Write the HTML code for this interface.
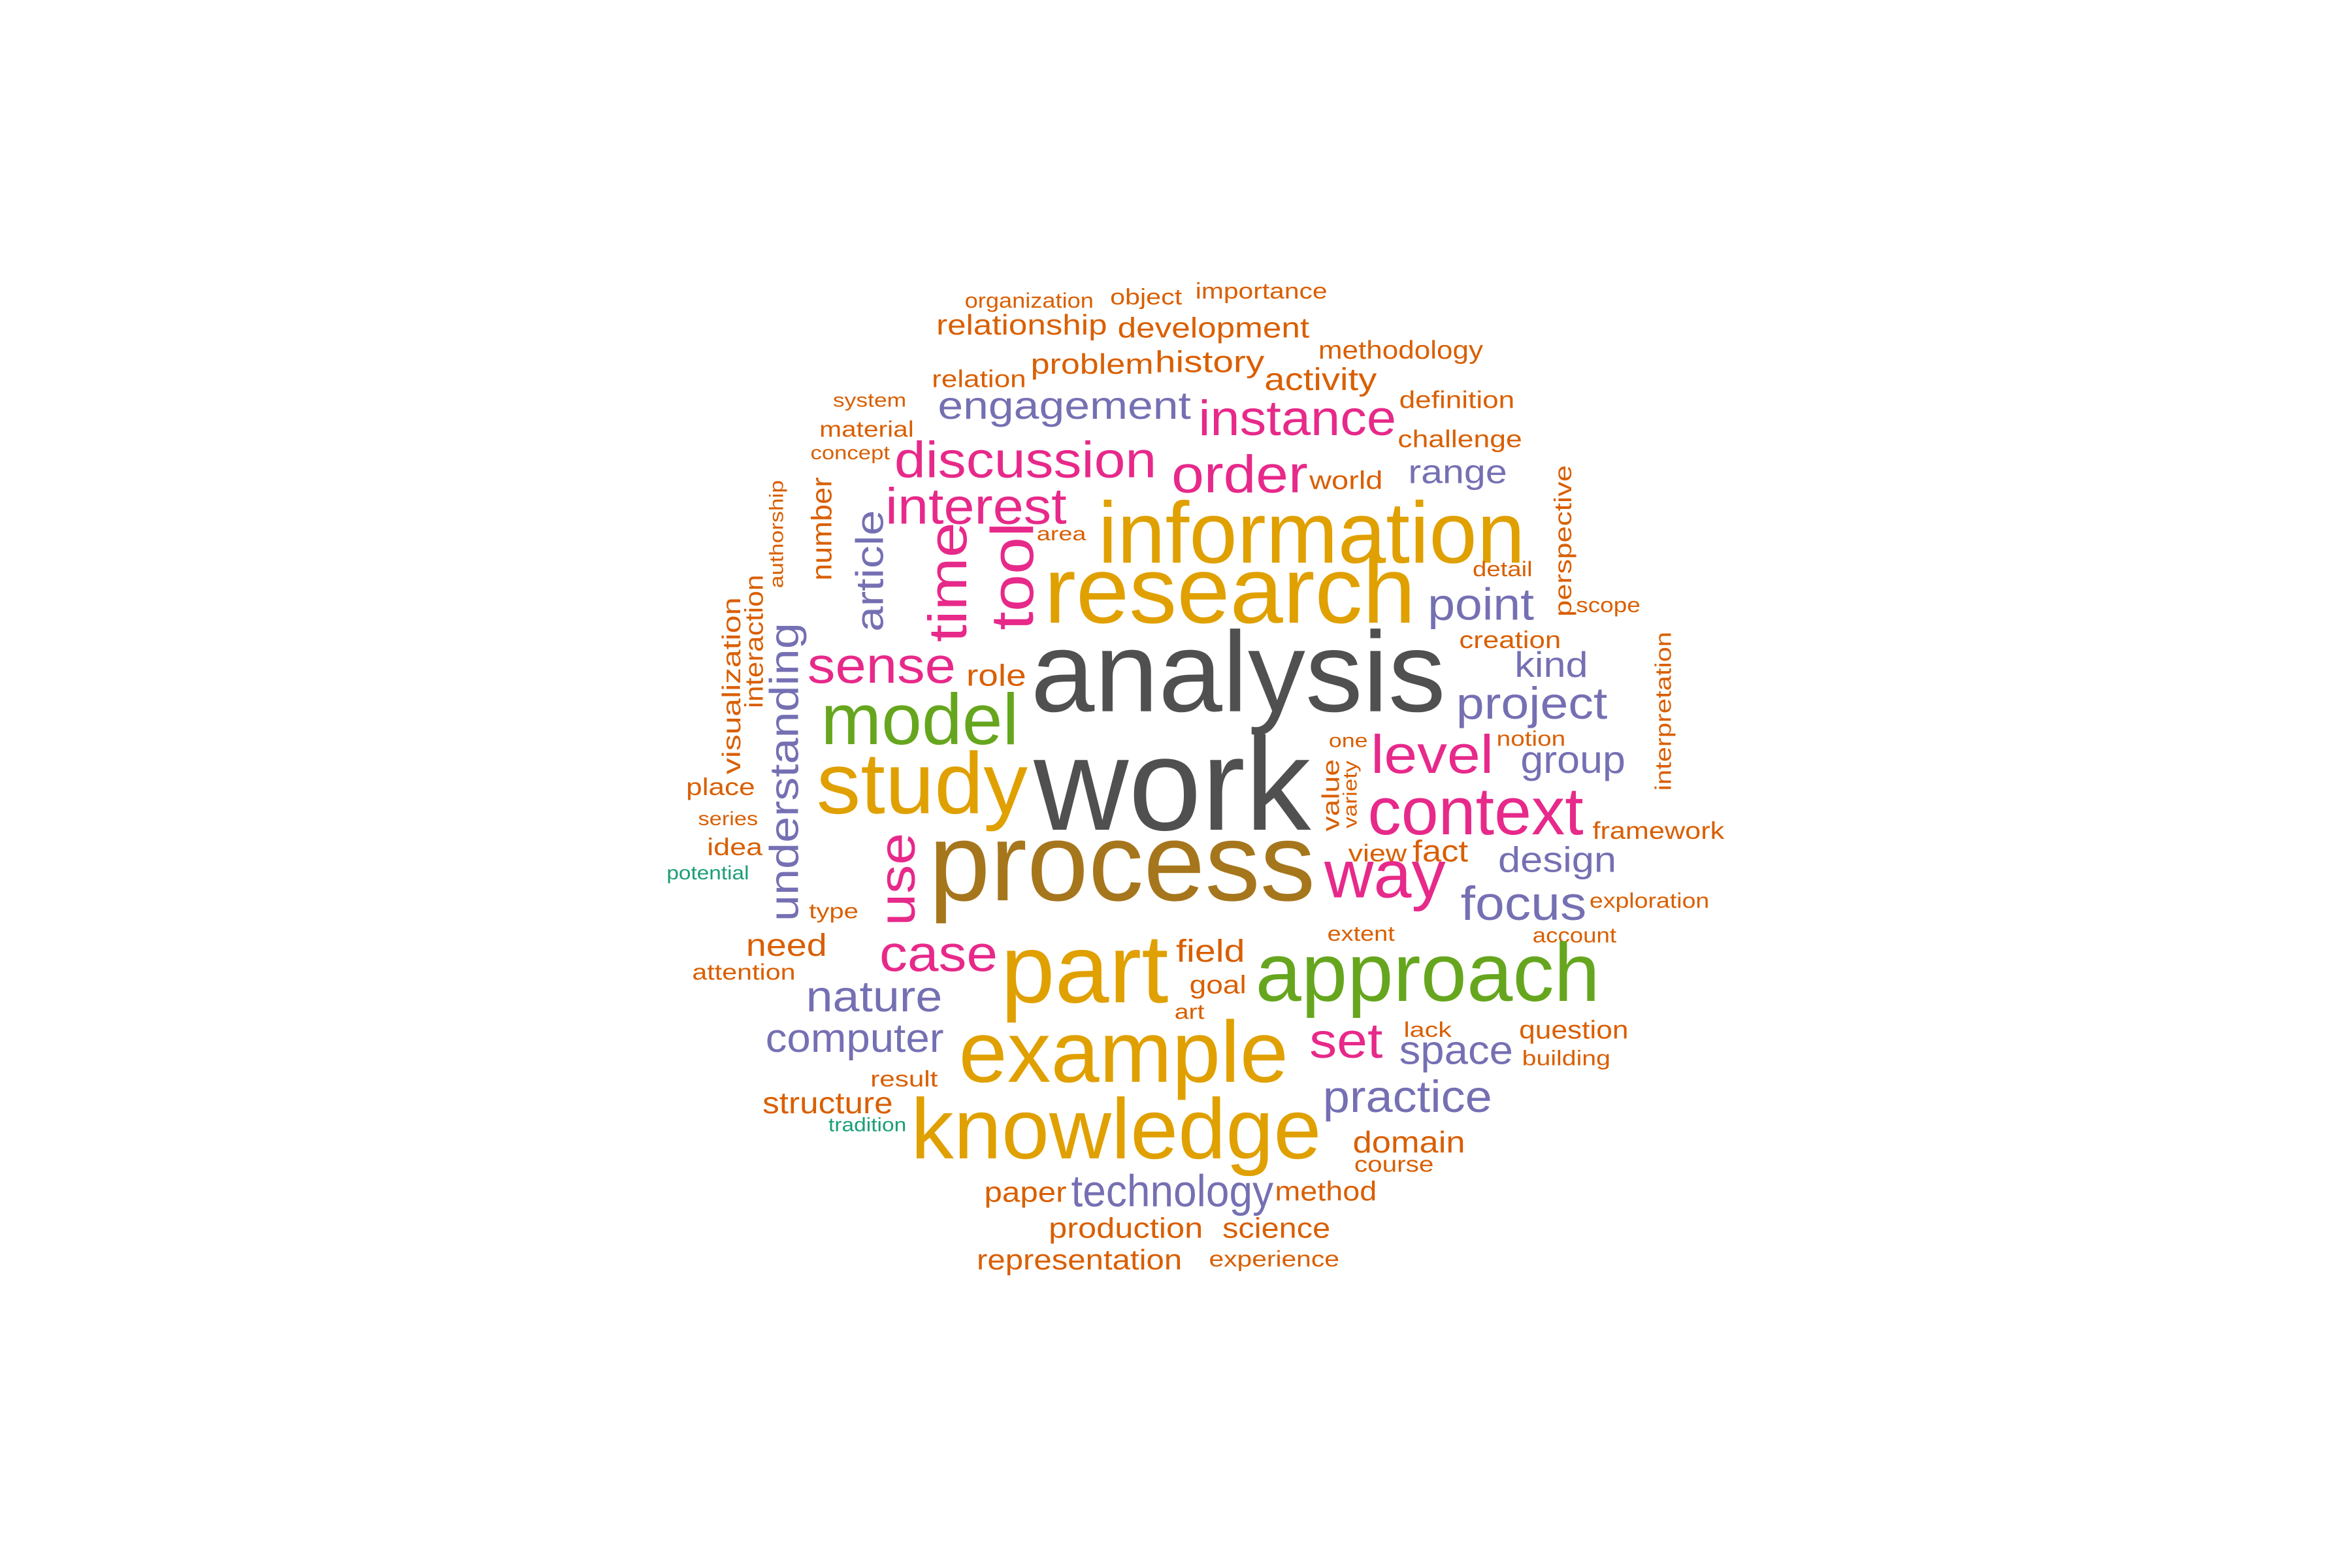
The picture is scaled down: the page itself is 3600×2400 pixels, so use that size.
<!DOCTYPE html>
<html><head><meta charset="utf-8"><style>
html,body{margin:0;padding:0;background:#fff;}
svg{display:block;}
text{font-family:"Liberation Sans",Arial,sans-serif;}
</style></head>
<body>
<svg id="cloud" width="3600" height="2400" viewBox="0 0 1570 1045" preserveAspectRatio="none" xmlns="http://www.w3.org/2000/svg">
<rect width="1570" height="1045" fill="#fff"/>
</svg>
<script>
const palette = {o:"#D95F02",p:"#7570B3",k:"#E7298A",y:"#E0A000",g:"#66A61E",b:"#A6761D",r:"#505050",t:"#1B9E77"};
// horizontal words: [word, left, baseline, width, size, color]
const horizWords = [
["organization",644,205,86,14,"o"],["object",741,203,48,15,"o"],["importance",798,199,88,15,"o"],
["relationship",625,223,114,19,"o"],["development",746,225,128,19,"o"],["methodology",880,239,110,17,"o"],
["relation",622,258,63,16,"o"],["problem",688,249,82,19,"o"],["history",771,248,73,20,"o"],
["activity",844,260,75,21,"o"],["engagement",626,279,169,26,"p"],["instance",800,290,132,33,"k"],
["definition",934,272,77,16,"o"],["system",556,271,49,13,"o"],["material",547,291,63,15,"o"],
["challenge",933,298,83,16,"o"],["concept",541,306,53,13,"o"],["discussion",597,318,175,34,"k"],
["order",782,328,91,35,"k"],["world",874,326,49,17,"o"],["range",940,322,66,22,"p"],
["interest",591,349,121,34,"k"],["information",733,375,285,58,"y"],["area",692,360,33,13,"o"],
["detail",983,384,40,14,"o"],["research",697,415,248,63,"y"],["point",953,413,71,30,"p"],
["scope",1052,408,43,14,"o"],["creation",974,432,68,16,"o"],["sense",539,455,99,34,"k"],
["role",645,457,40,20,"o"],["analysis",688,474,277,76,"r"],["kind",1011,451,49,24,"p"],
["project",972,479,101,30,"p"],["model",548,496,132,48,"g"],["notion",999,497,46,14,"o"],
["one",887,498,26,13,"o"],["level",915,515,82,36,"k"],["group",1015,515,70,26,"p"],
["study",545,542,141,58,"y"],["work",690,553,185,88,"r"],["place",458,530,46,16,"o"],
["context",913,556,144,45,"k"],["framework",1063,559,88,16,"o"],["series",466,550,40,13,"o"],
["idea",472,570,37,16,"o"],["view",900,574,39,16,"o"],["fact",943,574,37,20,"o"],
["design",1000,581,79,24,"p"],["potential",445,586,55,13,"t"],["process",620,600,258,74,"b"],
["way",884,598,81,45,"k"],["focus",975,613,84,32,"p"],["exploration",1061,605,80,14,"o"],
["type",540,612,33,14,"o"],["extent",886,627,45,14,"o"],["account",1023,628,56,14,"o"],
["need",498,637,54,21,"o"],["case",587,647,79,34,"k"],["field",785,641,46,21,"o"],
["part",668,668,112,65,"y"],["approach",838,667,230,55,"g"],["attention",462,653,69,15,"o"],
["goal",794,662,38,17,"o"],["nature",538,674,91,29,"p"],["art",784,679,20,14,"o"],
["lack",937,691,32,14,"o"],["question",1014,692,73,17,"o"],["set",874,705,49,33,"k"],
["space",934,709,76,27,"p"],["computer",511,701,119,27,"p"],["building",1016,710,59,14,"o"],
["example",640,721,220,58,"y"],["result",581,724,45,15,"o"],["structure",509,742,87,20,"o"],
["practice",883,741,113,30,"p"],["tradition",553,754,52,13,"t"],["knowledge",608,772,274,57,"y"],
["domain",903,768,75,20,"o"],["course",904,781,53,15,"o"],["paper",657,801,55,19,"o"],
["technology",715,804,135,30,"p"],["method",851,800,68,18,"o"],["production",700,825,103,19,"o"],
["science",816,825,72,19,"o"],["representation",652,846,137,19,"o"],["experience",807,844,87,15,"o"]
];
// vertical words: [word, centerX, top, bottom, size, color]
const vertWords = [
["authorship",518,320,392,13,"o"],["number",548,318,387,19,"o"],["article",580,340,421,26,"p"],
["time",632,348,428,36,"k"],["tool",675,348,420,40,"k"],["visualization",488,398,516,17,"o"],
["interaction",503,383,472,17,"o"],["understanding",523,415,614,27,"p"],["use",598,555,617,34,"k"],
["value",888,506,554,16,"o"],["variety",901,507,552,13,"o"],["perspective",1043,310,411,16,"o"],
["interpretation",1110,421,527,15,"o"]
];
const NS="http://www.w3.org/2000/svg";
const svg=document.getElementById('cloud');
horizWords.forEach(w=>{
  const t=document.createElementNS(NS,'text');
  t.setAttribute('x',w[1]);t.setAttribute('y',w[2]);
  t.setAttribute('font-size',w[4]);t.setAttribute('fill',palette[w[5]]);
  t.setAttribute('textLength',w[3]);t.setAttribute('lengthAdjust','spacingAndGlyphs');
  t.textContent=w[0];
  
  
  svg.appendChild(t);
});
vertWords.forEach(w=>{
  const t=document.createElementNS(NS,'text');
  t.setAttribute('transform','translate('+w[1]+','+w[3]+') rotate(-90)');
  t.setAttribute('x',0);t.setAttribute('y',0);t.setAttribute('dy','0.36em');
  t.setAttribute('font-size',w[4]);t.setAttribute('fill',palette[w[5]]);
  t.setAttribute('textLength',w[3]-w[2]);t.setAttribute('lengthAdjust','spacingAndGlyphs');
  t.textContent=w[0];
  
  
  svg.appendChild(t);
});
</script>
</body></html>
